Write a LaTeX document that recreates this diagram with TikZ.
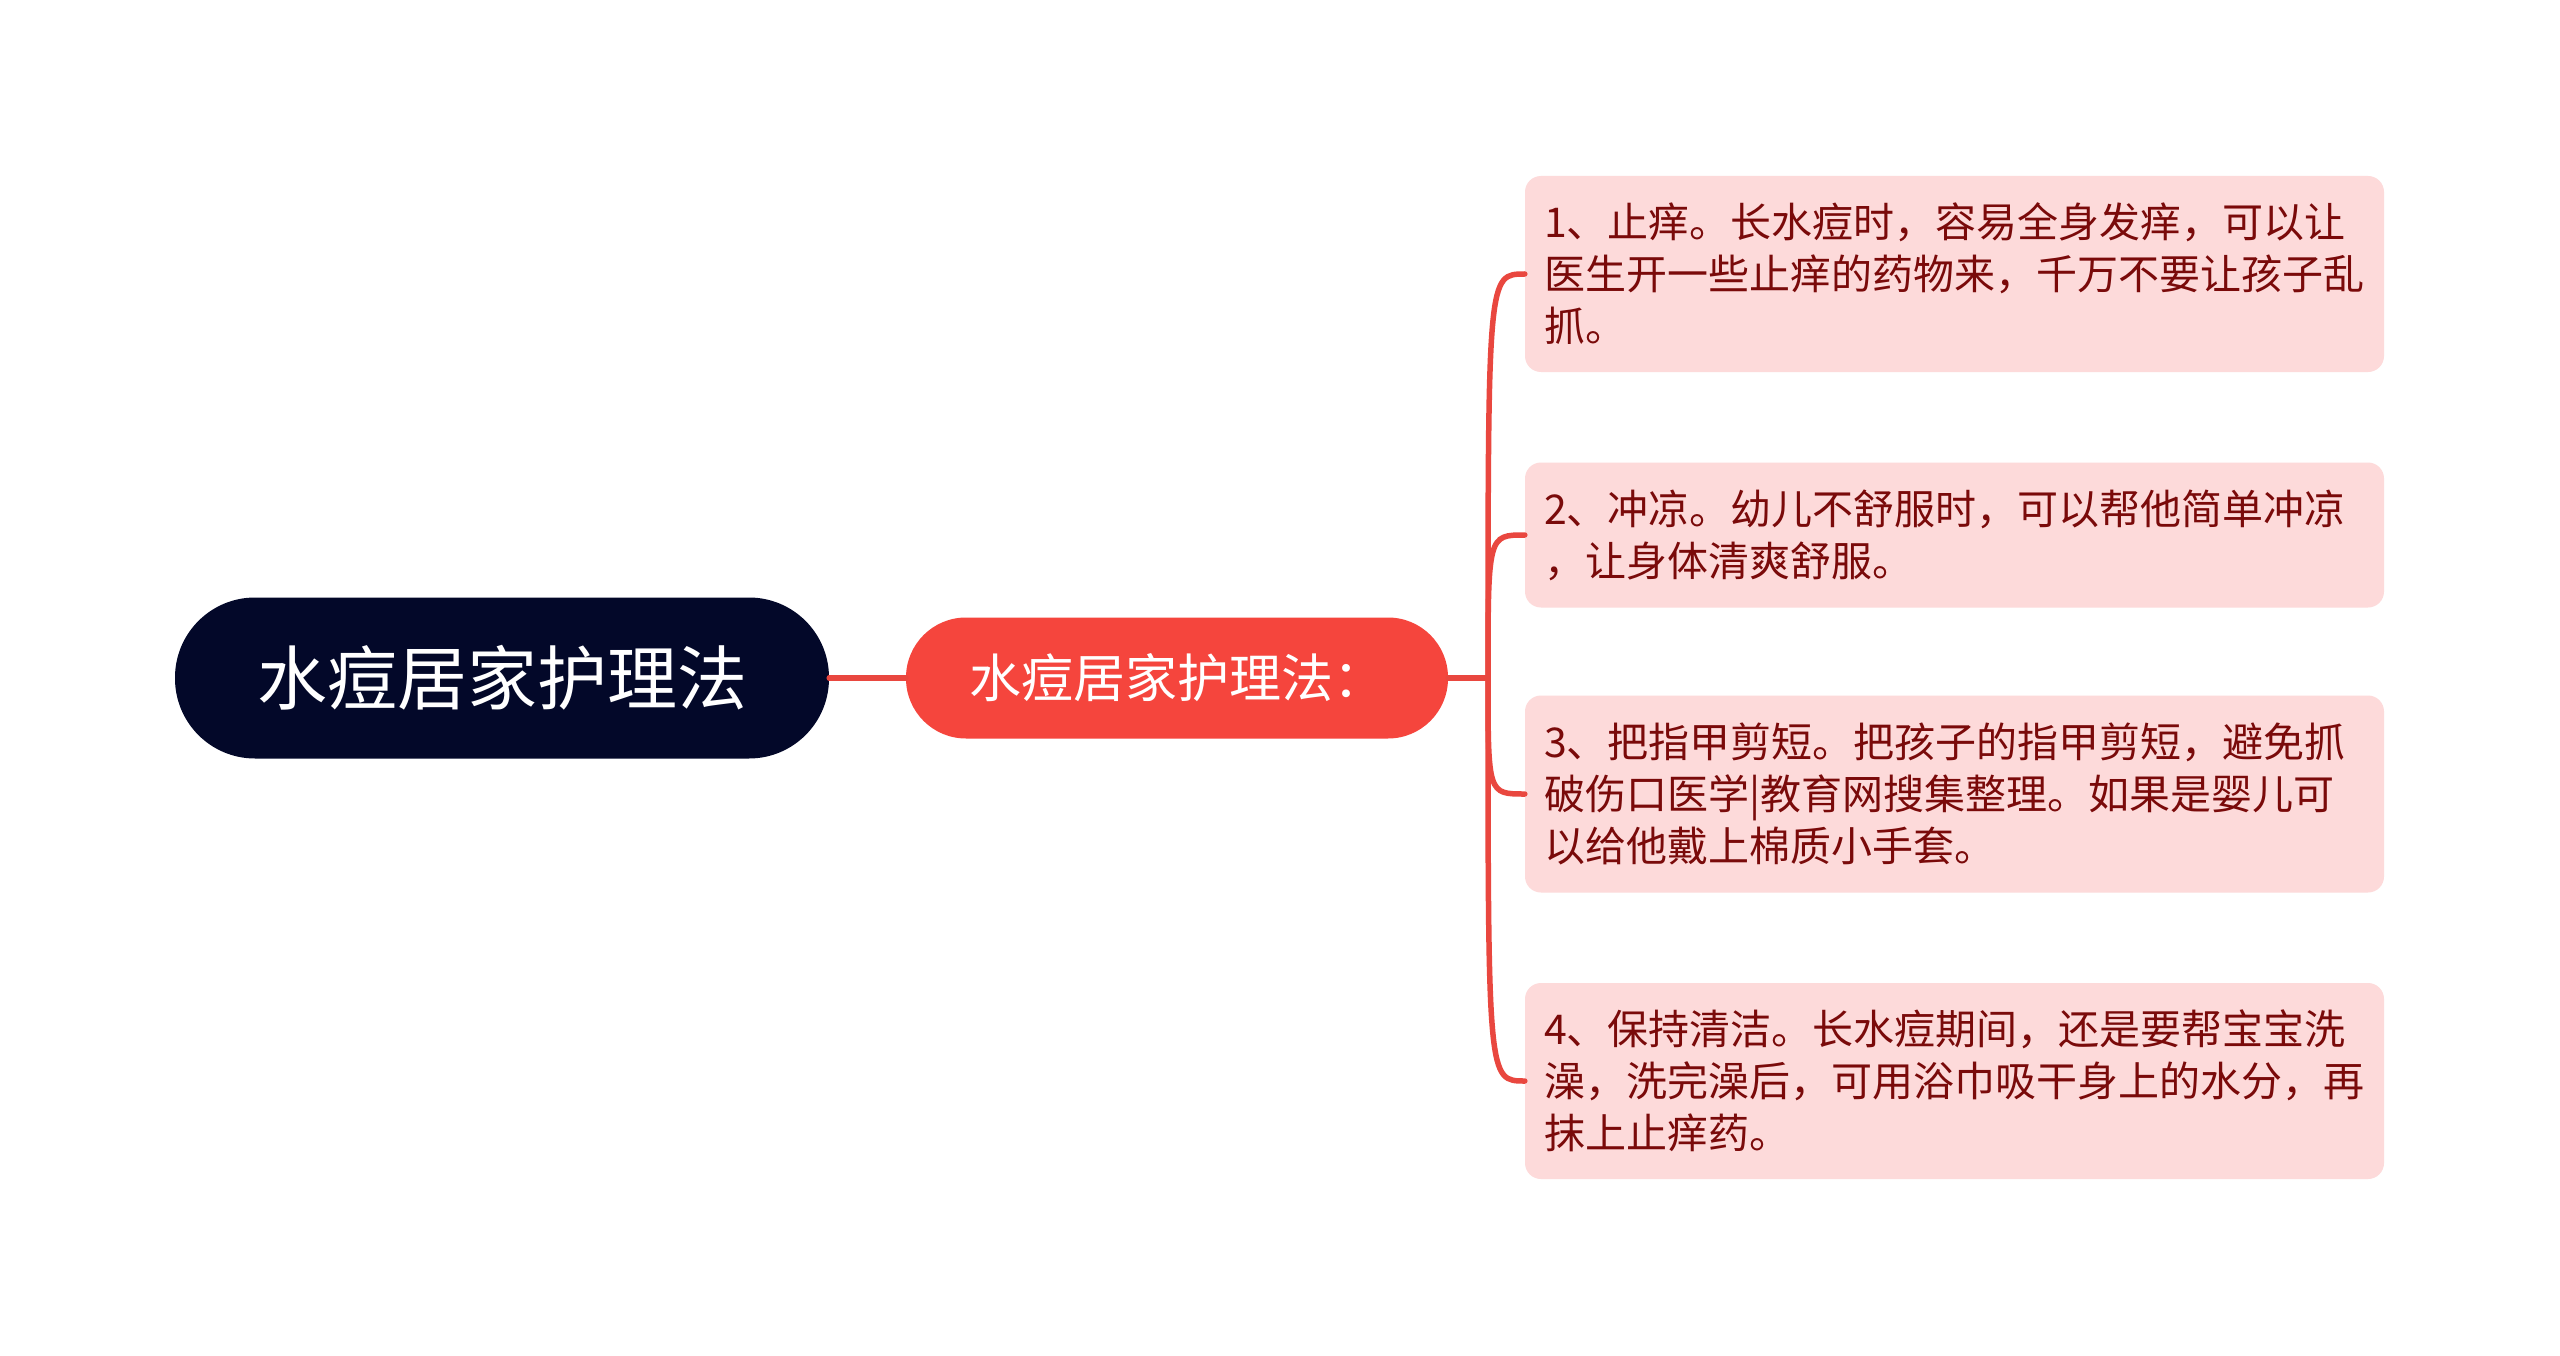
\documentclass[tikz,border=0pt]{standalone}
\usepackage{fontspec}
\setmainfont{Noto Sans CJK SC}
\definecolor{rootfill}{HTML}{030829}
\definecolor{midfill}{HTML}{F5453D}
\definecolor{leaffill}{HTML}{FDDADA}
\definecolor{leaftext}{HTML}{7A0A0A}
\definecolor{linkred}{HTML}{E9473F}
\begin{document}
\begin{tikzpicture}[x=1pt,y=-1pt,
  rootbox/.style={fill=rootfill, text=white, rounded corners=80pt, minimum width=654pt, minimum height=161pt, inner sep=0pt, font=\fontsize{70}{80}\selectfont},
  midbox/.style={fill=midfill, text=white, rounded corners=60pt, minimum width=542pt, minimum height=121pt, inner sep=0pt, font=\fontsize{52}{60}\selectfont},
  leafbox/.style={fill=leaffill, text=leaftext, rounded corners=16pt, text width=821pt, inner xsep=19pt, inner ysep=0pt, align=left, font=\fontsize{41}{52}\selectfont},
  link/.style={draw=linkred, line width=5.5pt, line cap=round}
]
\useasboundingbox[fill=white] (0,0) rectangle (2560,1356);

\node[rootbox] (root) at (502,678) {水痘居家护理法};
\node[midbox] (mid) at (1177,678) {水痘居家护理法：};

\node[leafbox, minimum height=196pt] (l1) at (1954.5,274) {1、止痒。长水痘时，容易全身发痒，可以让\\医生开一些止痒的药物来，千万不要让孩子乱\\抓。};
\node[leafbox, minimum height=145pt] (l2) at (1954.5,535) {2、冲凉。幼儿不舒服时，可以帮他简单冲凉\\，让身体清爽舒服。};
\node[leafbox, minimum height=197pt] (l3) at (1954.5,794) {3、把指甲剪短。把孩子的指甲剪短，避免抓\\破伤口医学|教育网搜集整理。如果是婴儿可\\以给他戴上棉质小手套。};
\node[leafbox, minimum height=196pt] (l4) at (1954.5,1081) {4、保持清洁。长水痘期间，还是要帮宝宝洗\\澡，洗完澡后，可用浴巾吸干身上的水分，再\\抹上止痒药。};

\coordinate (j) at (1488,678);
\draw[link] (root.east) -- (mid.west);
\draw[link] (mid.east) -- (j);
\foreach \n in {l1,l2,l3,l4}{
  \draw[link] (j) .. controls (j |- \n.west) and (j |- \n.west) .. (\n.west);
}
\end{tikzpicture}
\end{document}
